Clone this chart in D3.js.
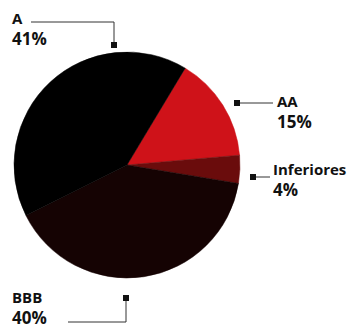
<!DOCTYPE html>
<html>
<head>
<meta charset="utf-8">
<script src="https://cdn.jsdelivr.net/npm/d3@7"></script>
<style>
  body { margin: 0; background: #fff; }
  svg { display: block; }
  .lbl { font-family: "Open Sans", sans-serif; font-weight: 700; fill: #111; }
</style>
</head>
<body>
<svg id="chart" width="352" height="334"></svg>
<script>
// DATA
var categories = ["AA", "Inferiores", "BBB", "A"];
var shares = [15, 4, 40, 41];
var shareLabels = ["15%", "4%", "40%", "41%"];
var colours = ["#cf1219", "#6a0c0c", "#150303", "#000000"];

// layout of the callouts (marker, elbow, text)
var callouts = {
  "A":          { tx: 12,  ty: 24,  marker: [114, 45],  path: [[114, 45], [114, 22], [31, 22]] },
  "AA":         { tx: 277, ty: 107, marker: [237, 103], path: [[237, 103], [273, 103]] },
  "Inferiores": { tx: 273, ty: 175, marker: [253, 177], path: [[253, 177], [270, 177]] },
  "BBB":        { tx: 12,  ty: 303, marker: [126, 298], path: [[126, 298], [126, 322], [68, 322]] }
};

var svg = d3.select('#chart');
var cx = 127, cy = 165, r = 113;

var pie = d3.pie()
  .sort(null)
  .value(function(d) { return d.value; })
  .startAngle(31 * Math.PI / 180)
  .endAngle(31 * Math.PI / 180 + 2 * Math.PI);

var rows = categories.map(function(c, i) {
  return { key: c, value: shares[i], label: shareLabels[i], colour: colours[i] };
});

var arc = d3.arc().innerRadius(0).outerRadius(r);

var g = svg.append('g').attr('transform', 'translate(' + cx + ',' + cy + ')');
g.selectAll('path.slice')
  .data(pie(rows))
  .enter()
  .append('path')
    .attr('class', 'slice')
    .attr('d', arc)
    .attr('fill', function(d) { return d.data.colour; })
    .attr('stroke', function(d) { return d.data.colour; })
    .attr('stroke-width', 0.5);

var line = d3.line();

rows.forEach(function(d) {
  var c = callouts[d.key];
  svg.append('path')
    .attr('d', line(c.path))
    .attr('fill', 'none')
    .attr('stroke', '#333')
    .attr('stroke-width', 1);
  svg.append('rect')
    .attr('x', c.marker[0] - 3)
    .attr('y', c.marker[1] - 3)
    .attr('width', 6)
    .attr('height', 6)
    .attr('fill', '#111');
  svg.append('text')
    .attr('class', 'lbl')
    .attr('x', c.tx)
    .attr('y', c.ty)
    .style('font-size', '15px')
    .text(d.key);
  svg.append('text')
    .attr('class', 'lbl')
    .attr('x', c.tx)
    .attr('y', c.ty + 21)
    .style('font-size', '17px')
    .text(d.label);
});
</script>
</body>
</html>
